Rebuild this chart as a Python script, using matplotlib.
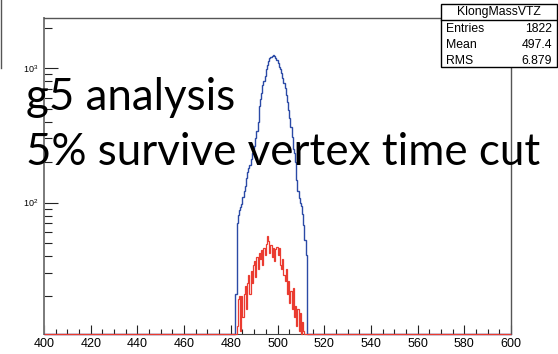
import numpy as np
import matplotlib
matplotlib.use("Agg")
import matplotlib.pyplot as plt
from matplotlib.ticker import MultipleLocator, LogLocator, LogFormatterSciNotation, NullFormatter
from matplotlib.patches import Rectangle
from matplotlib.lines import Line2D

# Histogram binning (ROOT-style 400 bins over 400-600 MeV)
x_low, x_high, bin_width = 400.0, 600.0, 0.5

# KlongMass before the vertex-time cut (first non-empty bin starts at 482.0)
blue_start = 482.0
blue_counts = [21, 70, 81, 88, 93, 97, 110, 122, 132, 152,
               168, 180, 190, 212, 235, 250, 265, 300, 340, 400,
               520, 590, 655, 745, 810, 870, 985, 1060, 1130, 1190,
               1215, 1240, 1250, 1235, 1190, 1150, 1100, 1030, 985, 925,
               850, 780, 708, 635, 560, 490, 425, 365, 310, 250,
               232, 200, 148, 122, 108, 100, 94, 82, 68, 53, 41]

# KlongMassVTZ after the vertex-time cut (first non-empty bin starts at 482.5)
red_start = 482.5
red_counts = [12, 19, 20, 11, 20, 14, 21, 24, 16, 25,
              29, 21, 31, 25, 34, 37, 28, 39, 32, 42,
              38, 44, 34, 46, 41, 49, 56, 52, 42, 48,
              39, 46, 37, 45, 47, 41, 46, 34, 32, 38,
              29, 26, 32, 21, 26, 18, 22, 16, 23, 14,
              17, 12, 16, 11, 15, 10, 13, 11]

x_ticks = [400, 420, 440, 460, 480, 500, 520, 540, 560, 580, 600]

stats_title = "KlongMassVTZ"
stats_rows = [("Entries", "1822"), ("Mean", "497.4"), ("RMS", "6.879")]

overlay_lines = ["g5 analysis", "5% survive vertex time cut"]

y_min, y_max = 10.5, 2366.0


def full_hist(start, counts):
    n = int(round((x_high - x_low) / bin_width))
    h = np.zeros(n)
    i0 = int(round((start - x_low) / bin_width))
    h[i0:i0 + len(counts)] = counts
    return h


edges = np.linspace(x_low, x_high, int(round((x_high - x_low) / bin_width)) + 1)
blue_h = full_hist(blue_start, blue_counts)
red_h = full_hist(red_start, red_counts)

W, H = 558, 354
fig = plt.figure(figsize=(W / 100, H / 100), dpi=100)


def fx(px):
    return px / W


def fy(py):
    return 1 - py / H


ax = fig.add_axes([fx(44), fy(334), fx(511) - fx(44), fy(18) - fy(334)])
ax.set_yscale("log")
ax.set_xlim(x_low, x_high)
ax.set_ylim(y_min, y_max)

# empty bins sit on the lower frame edge, as ROOT draws them on a log axis
ax.stairs(np.maximum(blue_h, y_min), edges, baseline=None, color="#2b4aa6",
          lw=1.0, zorder=3, clip_on=False)
ax.stairs(np.maximum(red_h, y_min), edges, baseline=None, color="#ea3b30",
          lw=0.9, zorder=4, clip_on=False)

ax.set_xticks(x_ticks)
ax.xaxis.set_minor_locator(MultipleLocator(5))
ax.yaxis.set_major_locator(LogLocator(base=10))
ax.yaxis.set_major_formatter(LogFormatterSciNotation())
ax.yaxis.set_minor_locator(LogLocator(base=10, subs=np.arange(2, 10)))
ax.yaxis.set_minor_formatter(NullFormatter())

ax.tick_params(axis="x", which="major", direction="in", length=6.5, width=0.8,
               pad=3, labelsize=9, color="#222222")
ax.tick_params(axis="x", which="minor", direction="in", length=3.6, width=0.8,
               color="#222222")
ax.tick_params(axis="y", which="major", direction="in", length=10, width=0.8,
               pad=4, labelsize=6.5, color="#222222")
ax.tick_params(axis="y", which="minor", direction="in", length=5.8, width=0.8,
               color="#222222")
for lab in ax.get_xticklabels() + ax.get_yticklabels():
    lab.set_fontfamily("Liberation Sans")

ax.spines["left"].set_color("#7a7a7a")
ax.spines["left"].set_linewidth(1.4)
ax.spines["bottom"].set_color("#444444")
for s in ("top", "right"):
    ax.spines[s].set_color("#555555")
    ax.spines[s].set_linewidth(1.0)

# statistics box
fig.patches.append(Rectangle((fx(441), fy(67)), fx(557) - fx(441), fy(4) - fy(67),
                             transform=fig.transFigure, facecolor="white",
                             edgecolor="black", lw=1.0, zorder=10))
fig.lines.append(Line2D([fx(441), fx(557)], [fy(20), fy(20)],
                        transform=fig.transFigure, color="black", lw=1.0, zorder=11))
fig.text(fx(499), fy(12), stats_title, ha="center", va="center", fontsize=8.8,
         family="Liberation Sans", zorder=12)
for k, (name, val) in enumerate(stats_rows):
    yy = fy(28.5 + 16 * k)
    fig.text(fx(446), yy, name, ha="left", va="center", fontsize=8.8,
             family="Liberation Sans", zorder=12)
    fig.text(fx(552), yy, val, ha="right", va="center", fontsize=8.8,
             family="Liberation Sans", zorder=12)

# thin rule at the very left edge
fig.lines.append(Line2D([fx(1), fx(1)], [fy(0), fy(68)], transform=fig.transFigure,
                        color="#555555", lw=1.0))

# annotation overlay
fig.text(fx(26), fy(110), overlay_lines[0], ha="left", va="baseline",
         fontsize=31.6, family="Lato", zorder=20)
fig.text(fx(26), fy(165), overlay_lines[1], ha="left", va="baseline",
         fontsize=31.6, family="Lato", zorder=20)

fig.savefig("out.png", dpi=100)
